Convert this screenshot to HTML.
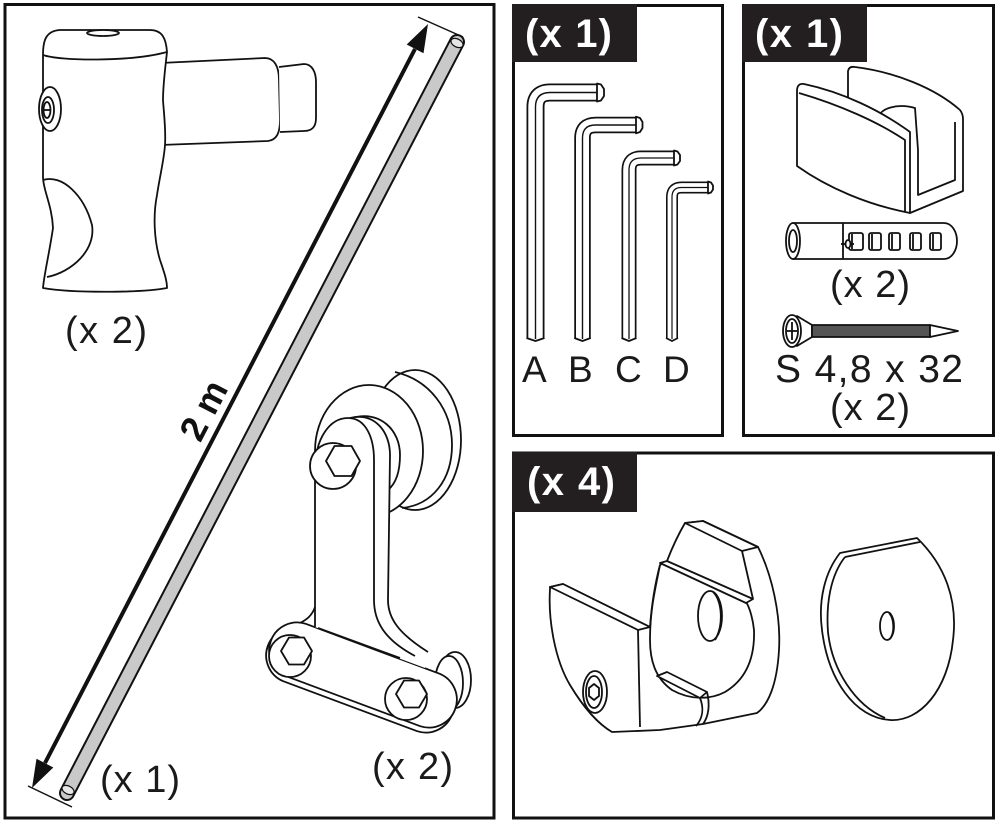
<!DOCTYPE html>
<html><head><meta charset="utf-8"><style>
html,body{margin:0;padding:0;background:#fff;}
svg{display:block;}
text{font-family:"Liberation Sans",Arial,sans-serif;}
</style></head><body>
<svg width="1000" height="824" viewBox="0 0 1000 824" xmlns="http://www.w3.org/2000/svg">
<rect width="1000" height="824" fill="#fff"/>

<!-- panel frames -->
<g fill="none" stroke="#111" stroke-width="3">
<rect x="5" y="4.5" width="489" height="813.5"/>
<rect x="513.5" y="5.5" width="209" height="430"/>
<rect x="743.5" y="5.5" width="250" height="430"/>
<rect x="513.5" y="453" width="480" height="365"/>
</g>
<g fill="#231f20">
<rect x="512" y="4" width="125" height="58"/>
<rect x="742" y="4" width="125" height="58"/>
<rect x="512" y="452" width="125" height="60"/>
</g>
<g fill="#fff" font-weight="bold" font-size="40">
<text x="525" y="47" textLength="87" lengthAdjust="spacing">(x 1)</text>
<text x="755" y="47" textLength="88" lengthAdjust="spacing">(x 1)</text>
<text x="527" y="495" textLength="88" lengthAdjust="spacing">(x 4)</text>
</g>

<!-- ============ LEFT PANEL ============ -->
<!-- wall bracket -->
<g stroke="#111" stroke-width="1.8" fill="#fff" stroke-linejoin="round">
<path d="M160,63 L265,58 C274,58 279,66 279,80 L280,120 C280,134 276,140 268,141 L160,145 Z"/>
<path d="M279,67 L304,64 C312,64 316,72 316,82 L316,118 C316,127 312,131 304,131 L280,132"/>
<path d="M43,55 C43,40 46,31 60,30 L150,30 C162,30 166,38 167,52 C165,70 163,85 163,100 C164,115 166,130 165,145 C164,160 160,175 157,195 C153,215 154,240 160,260 C164,272 167,280 167,288 C140,293 70,293 43,288 C44,275 49,255 53,228 C52,205 43,190 43,177 Z"/>
<path d="M43,55 C60,61 130,62 167,52" fill="none"/>
<ellipse cx="103" cy="33" rx="16" ry="3"/>
<path d="M43,180 C62,174 84,195 92,225 C96,250 72,272 47,277" fill="none"/>
<ellipse cx="50" cy="109" rx="11" ry="22"/>
<ellipse cx="48" cy="110" rx="6" ry="13"/>
<ellipse cx="47" cy="110" rx="3.5" ry="8" fill="none"/>
<line x1="43.5" y1="110" x2="50.5" y2="110"/>
</g>

<!-- rod -->
<line x1="457" y1="42" x2="67" y2="793" stroke="#111" stroke-width="16" stroke-linecap="round"/>
<line x1="457" y1="42" x2="67" y2="793" stroke="#c9c9c9" stroke-width="12" stroke-linecap="round"/>
<ellipse cx="457" cy="43" rx="6.5" ry="4" transform="rotate(27.4 457 43)" fill="#e6e6e6" stroke="#111" stroke-width="1.2"/>
<ellipse cx="68" cy="790" rx="6.5" ry="4" transform="rotate(27.4 68 790)" fill="#e6e6e6" stroke="#111" stroke-width="1.2"/>

<!-- dimension arrow -->
<line x1="415" y1="49" x2="45" y2="763" stroke="#111" stroke-width="4"/>
<polygon points="428,24 423.5,53.3 406.7,44.5" fill="#111"/>
<polygon points="32,788 53.3,767.5 36.5,758.7" fill="#111"/>
<line x1="418" y1="17" x2="463" y2="37" stroke="#111" stroke-width="1.5"/>
<line x1="28" y1="786" x2="72" y2="807" stroke="#111" stroke-width="1.5"/>
<text transform="translate(203,410) rotate(-62.6)" text-anchor="middle" y="13" font-size="36" font-weight="bold" fill="#111">2 m</text>

<!-- roller assembly -->
<g stroke="#111" stroke-width="1.8" fill="#fff" stroke-linejoin="round">
<ellipse cx="415" cy="440" rx="46" ry="70"/>
<path d="M395,372 C430,380 452,410 452,445 C452,480 432,505 402,508" fill="none"/>
<ellipse cx="369" cy="451" rx="54" ry="66"/>
<path d="M352,418 C380,410 400,430 400,455 C400,475 394,485 388,490" fill="none"/>
<ellipse cx="455" cy="680" rx="16" ry="28"/>
<ellipse cx="449" cy="683" rx="14" ry="27"/>
<path d="M305.8,623.8 L439.8,673.8 A28,28 0 0 1 420.2,726.2 L286.2,676.2 A28,28 0 0 1 305.8,623.8 Z" transform="translate(-3,5)"/>
<path d="M305.8,623.8 L439.8,673.8 A28,28 0 0 1 420.2,726.2 L286.2,676.2 A28,28 0 0 1 305.8,623.8 Z"/>
<path d="M315,627 L315,470 C315,438 330,418 348,418 C375,412 390,432 390,455 L388,600 C388,618 398,633 425,660 L425,668 Z" stroke="none"/>
<path d="M315,627 L315,470 C315,438 330,418 348,418 C366,418 374,438 374,460 L374,600 C374,622 385,640 415,656" fill="none"/>
<path d="M350,418 C375,412 390,432 390,455 L388,600 C388,618 398,633 428,652" fill="none"/>
<path d="M315,607 C312,616 306,620 300,623" fill="none"/>
<line x1="318" y1="628" x2="400" y2="658"/>
<circle cx="333" cy="466" r="23"/>
<polygon points="360,461 351.5,446 334.5,446 326,461 334.5,476 351.5,476"/>
<circle cx="290" cy="656" r="21"/>
<polygon points="312,651 304,637.5 289,637.5 281,651 289,664.5 304,664.5"/>
<circle cx="406" cy="699" r="21"/>
<polygon points="427,694 419,680.5 404,680.5 396,694 404,707.5 419,707.5"/>
</g>

<g fill="#1a1a1a" font-size="38">
<text x="65" y="343" textLength="82" lengthAdjust="spacing">(x 2)</text>
<text x="100" y="792" textLength="80" lengthAdjust="spacing">(x 1)</text>
<text x="372" y="779" textLength="81" lengthAdjust="spacing">(x 2)</text>
</g>

<!-- ============ HEX KEYS ============ -->
<g fill="none" stroke-linejoin="round">
<path d="M535.5,339 L535.5,107 Q535.5,92.5 550,92.5 L598,92.5" stroke="#111" stroke-width="18"/>
<path d="M535.5,339 L535.5,107 Q535.5,92.5 550,92.5 L598,92.5" stroke="#fff" stroke-width="14.4"/>
<path d="M535.5,339 L535.5,107 Q535.5,92.5 550,92.5 L598,92.5" stroke="#111" stroke-width="1.4"/>
<path d="M582.5,339 L582.5,138 Q582.5,125 595.5,125 L637,125" stroke="#111" stroke-width="16.5"/>
<path d="M582.5,339 L582.5,138 Q582.5,125 595.5,125 L637,125" stroke="#fff" stroke-width="13"/>
<path d="M582.5,339 L582.5,138 Q582.5,125 595.5,125 L637,125" stroke="#111" stroke-width="1.4"/>
<path d="M629,339 L629,170 Q629,158 641,158 L675,158" stroke="#111" stroke-width="15"/>
<path d="M629,339 L629,170 Q629,158 641,158 L675,158" stroke="#fff" stroke-width="11.6"/>
<path d="M629,339 L629,170 Q629,158 641,158 L675,158" stroke="#111" stroke-width="1.3"/>
<path d="M672,339 L672,197 Q672,187.5 681.5,187.5 L709,187.5" stroke="#111" stroke-width="12"/>
<path d="M672,339 L672,197 Q672,187.5 681.5,187.5 L709,187.5" stroke="#fff" stroke-width="8.8"/>
<path d="M672,339 L672,197 Q672,187.5 681.5,187.5 L709,187.5" stroke="#111" stroke-width="1.2"/>
</g>
<g stroke="#111" stroke-width="1.8" fill="#fff" stroke-linejoin="round">
<polygon points="597,83.5 601,84.5 604,89 604,96 601,100.5 597,101.5"/>
<polygon points="636,116.7 640,118 642.5,122 642.5,128 640,132 636,133.3"/>
<polygon points="674,150.5 677.5,151.5 680,155 680,161 677.5,164.5 674,165.5"/>
<polygon points="708,181.5 711,182.5 713,185.5 713,189.5 711,192.5 708,193.5"/>
<path d="M526.5,338 L535.5,341 L544.5,338" fill="none"/>
<path d="M574.3,338 L582.5,341 L590.7,338" fill="none"/>
<path d="M621.5,338 L629,341 L636.5,338" fill="none"/>
<path d="M666,338 L672,341 L678,338" fill="none"/>
</g>
<g fill="#1a1a1a" font-size="37">
<text x="522" y="382">A</text>
<text x="568" y="382">B</text>
<text x="615" y="382">C</text>
<text x="663" y="382">D</text>
</g>

<!-- ============ GLASS CLIP / PLUG / SCREW ============ -->
<g stroke="#111" stroke-width="1.8" fill="#fff" stroke-linejoin="round">
<path d="M848,104 L848,71 Q849,66 855,67 C895,72 935,88 960,110 Q963,114 963,119 L963,191 L910,213 Z"/>
<path d="M918,150 L918,195 L955,180 L955,122" fill="none"/>
<path d="M878,120 C878,108 898,103 915,108 L918,150" fill="none"/>
<path d="M797,91 Q797,83 804,84 C842,92 880,110 910,132 L910,213 C868,205 828,188 797,166 Z"/>
<path d="M799,93 C840,105 878,122 905,140 L905,212" fill="none"/>

<path d="M793,223 L944,223 C952,223 957,232 957,241 C957,250 952,259 944,259 L793,259 Z"/>
<ellipse cx="793" cy="241" rx="7" ry="18"/>
<ellipse cx="793" cy="241" rx="4" ry="11"/>
<line x1="843" y1="223" x2="843" y2="259"/>
<rect x="849" y="233" width="14" height="17" rx="2"/>
<rect x="869" y="233" width="12" height="17" rx="2"/>
<rect x="889" y="233" width="11" height="17" rx="2"/>
<rect x="910" y="233" width="11" height="17" rx="2"/>
<rect x="930" y="233" width="11" height="17" rx="2"/>
<line x1="852" y1="234" x2="852" y2="249"/>
<line x1="872" y1="234" x2="872" y2="249"/>
<line x1="892" y1="234" x2="892" y2="249"/>
<line x1="913" y1="234" x2="913" y2="249"/>
<line x1="933" y1="234" x2="933" y2="249"/>
<line x1="841" y1="244" x2="854" y2="244"/>
<ellipse cx="848" cy="244" rx="2.5" ry="4"/>

<path d="M797,316 L812,325 L812,337 L797,346 Z"/>
<rect x="812" y="325" width="118" height="12" fill="#555"/>
<polygon points="930,325 958,331 930,337"/>
<ellipse cx="792" cy="331" rx="9" ry="16"/>
<ellipse cx="792" cy="331" rx="6" ry="12"/>
<line x1="792" y1="322" x2="792" y2="340"/>
<line x1="787" y1="331" x2="797" y2="331"/>
</g>
<g fill="#1a1a1a" font-size="38">
<text x="830" y="297" textLength="80" lengthAdjust="spacing">(x 2)</text>
<text x="775" y="382" font-size="39" textLength="188" lengthAdjust="spacing">S 4,8 x 32</text>
<text x="830" y="420" textLength="80" lengthAdjust="spacing">(x 2)</text>
</g>

<!-- ============ BOTTOM BRACKET + WASHER ============ -->
<g stroke="#111" stroke-width="1.8" fill="#fff" stroke-linejoin="round">
<path d="M758,547 C772,575 781,615 779,650 C777,685 768,705 757,713 L703,724 L660,730 L612,732 C600,725 585,710 570,685 C555,660 548,620 550,589 L550,587 L563,584 L650,627 C652,600 656,580 660,565 L667,561 C672,548 678,535 685,523 L703,521 Z"/>
<polygon points="550,587 563,584 650,627 638,630"/>
<path d="M638,630 L640,727" fill="none"/>
<path d="M660,565 C655,590 650,610 650,640 C650,660 655,678 672,690 C690,700 710,700 725,692 C745,680 755,660 754,630 C753,620 750,608 746,602" fill="none"/>
<polygon points="660,563 667,561 753,599 746,603"/>
<polygon points="685,523 703,521 758,547 742,551"/>
<path d="M742,551 L753,599" fill="none"/>
<path d="M657,676 L667,672 L707,692 L700,698 Z"/>
<path d="M700,698 C704,708 703,718 696,726" fill="none"/>
<path d="M707,692 C710,704 709,716 703,724" fill="none"/>
<ellipse cx="710" cy="616" rx="12" ry="25"/>
<path d="M713,592 C722,600 724,625 715,640" fill="none"/>
<ellipse cx="595" cy="692" rx="12" ry="21"/>
<ellipse cx="594" cy="692" rx="8" ry="16"/>
<polygon points="594,684 599,688 599,696 594,700 589,696 589,688"/>

<path d="M840,553 L917,538 C945,565 958,600 953,640 C948,690 920,722 890,720 C855,718 828,680 822,630 C818,600 825,572 840,553 Z"/>
<path d="M845,557 L920,542" fill="none"/>
<path d="M845,557 C830,576 826,605 828,632 C832,670 855,705 885,718" fill="none"/>
<ellipse cx="887" cy="626" rx="7" ry="14"/>
<path d="M889,613 C894,618 895,632 890,639" fill="none"/>
</g>
</svg>
</body></html>
